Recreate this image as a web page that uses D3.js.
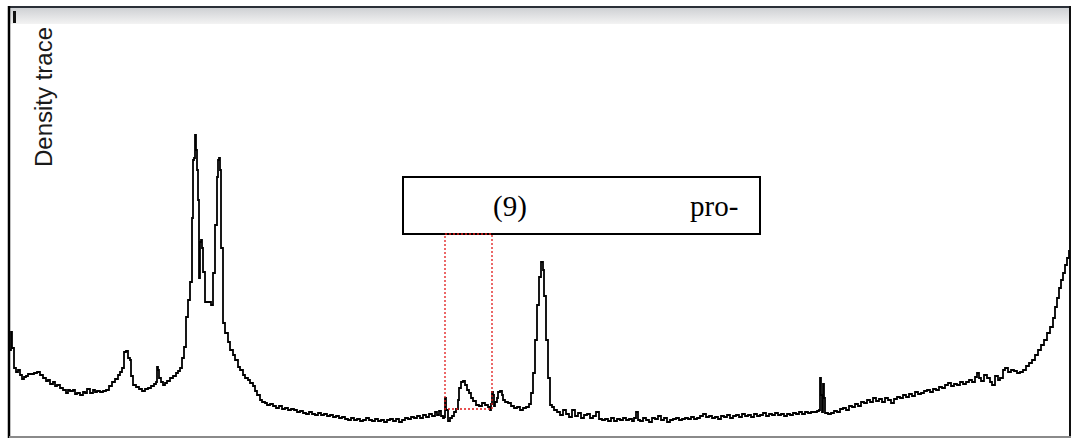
<!DOCTYPE html>
<html>
<head>
<meta charset="utf-8">
<script src="https://cdn.jsdelivr.net/npm/d3@7"></script>
<style>
  html, body { margin: 0; padding: 0; background: #fff; }
  svg { display: block; }
</style>
</head>
<body>
<svg id="chart" width="1074" height="439"></svg>
<script>
// Lane scan: migration distance along the lane and optical density at each step
const distance = [
  0,1,2,4,6,8,10,12,14,16,18,21,24,27,30,33,36,38,40,43,45,47,50,53,56,58,60,63,65,67,70,73,75,77,80,83,85,87,90,93,
  96,99,102,105,108,110,112,114,116,118,120,121,123,126,129,132,135,138,141,144,146,147,148,149,151,153,155,157,160,163,
  166,168,170,172,174,176,178,180,182,183,184,185,186,187,188,189,190,191,192,193,195,198,201,203,205,207,208,209,210,211,
  213,215,218,220,223,225,228,230,233,235,238,240,243,245,247,250,252,255,257,260,263,266,269,272,275,278,281,284,287,290,
  293,296,299,302,305,308,311,314,317,320,323,326,329,332,335,338,341,344,347,350,353,356,359,362,365,368,371,374,377,380,
  383,386,389,392,395,398,401,404,407,410,413,416,419,422,425,427,429,431,433,434,435,436,438,440,442,444,446,448,449,451,
  453,455,457,459,461,463,466,469,472,475,478,480,481,482,483,484,485,487,488,490,492,493,495,498,501,504,507,510,513,516,
  519,521,523,525,527,529,531,533,534,536,538,540,542,544,547,550,553,556,559,562,565,568,571,574,577,580,583,586,589,592,
  595,598,601,604,607,610,613,616,619,622,624,626,628,630,633,636,639,642,645,648,651,654,657,660,663,666,669,672,675,678,
  681,684,687,690,693,696,699,702,705,708,711,714,717,720,723,726,729,732,735,738,741,744,747,750,753,756,759,762,765,768,
  771,774,777,780,783,786,789,792,795,798,801,804,807,809,810,811,812,813,814,815,818,821,824,827,830,833,836,839,842,845,
  848,851,854,857,860,863,866,869,872,875,878,881,884,887,890,893,896,899,902,905,908,911,914,917,920,923,926,929,932,935,
  938,941,944,947,950,953,956,959,962,965,967,969,971,974,977,980,982,985,988,990,993,995,998,1001,1004,1007,1010,1013,1016,1019,
  1022,1025,1028,1031,1034,1037,1040,1043,1045,1047,1049,1051,1053,1055,1057,1059
];
const density = [
  87,105,89,69,65,67,62,58,60,61,63,63,64,65,62,59,56,57,53,55,51,52,49,47,44,47,46,47,43,44,42,45,44,48,44,47,45,46,45,46,
  47,51,55,58,62,65,69,85,86,79,77,61,52,50,48,46,48,49,51,53,55,70,67,59,55,52,54,56,59,61,
  64,66,69,79,90,120,137,155,219,277,279,302,287,267,237,159,195,197,189,165,135,135,132,164,212,260,277,279,267,189,
  114,104,95,87,82,77,70,67,62,59,57,54,51,46,42,37,35,34,32,33,31,29,31,28,29,27,28,27,25,26,
  24,23,25,23,22,24,22,23,21,22,20,21,19,20,18,17,19,17,18,16,17,19,17,16,18,16,17,15,17,18,
  16,18,15,17,19,18,20,19,21,19,22,20,23,21,25,22,26,21,19,20,39,27,16,19,21,25,28,37,49,55,
  56,52,47,44,39,36,32,31,34,32,30,27,33,45,42,31,35,39,45,46,42,37,35,34,31,29,30,27,29,30,
  33,44,64,97,132,160,175,167,141,97,59,32,30,27,25,22,27,23,20,27,21,24,19,22,23,19,21,25,18,17,
  18,16,19,16,18,17,19,17,18,16,19,25,17,16,19,17,15,19,18,21,17,19,15,17,18,19,17,18,19,18,
  20,18,19,21,23,20,21,19,20,18,21,20,22,19,21,22,20,23,21,22,20,23,21,22,24,21,23,22,24,22,
  23,21,23,22,24,23,25,23,25,24,25,25,26,27,59,42,25,53,39,24,23,24,26,25,28,29,27,31,30,33,
  31,35,34,37,35,39,36,38,35,39,37,34,38,40,39,42,40,43,41,45,43,44,46,47,45,48,47,50,49,52,
  54,51,53,52,55,53,55,57,55,60,64,59,56,62,59,55,52,61,57,59,67,69,65,67,66,64,65,67,71,74,
  77,82,87,92,97,104,110,119,130,139,149,157,164,172,179,187
];

// Box label segments
const labelTexts = ["(9)", "pro-"];
const axisTitle = "Density trace";

// Highlighted band on the lane (distance range) and its lower density bound
const bandRange = [435, 482];
const bandFloor = 28;

const svg = d3.select("#chart");

const x = d3.scaleLinear().domain([0, 1060]).range([10, 1070]);
const y = d3.scaleLinear().domain([0, 430]).range([437, 7]);

const serif = "'Liberation Serif', 'Times New Roman', serif";
const sans = "'Liberation Sans', Arial, sans-serif";

// Window title strip
const defs = svg.append("defs");
const grad = defs.append("linearGradient").attr("id", "strip").attr("x1", 0).attr("y1", 0).attr("x2", 0).attr("y2", 1);
grad.append("stop").attr("offset", "0%").attr("stop-color", "#cfd1d4");
grad.append("stop").attr("offset", "100%").attr("stop-color", "#f3f3f3");

svg.append("rect").attr("x", 9).attr("y", 8).attr("width", 1061).attr("height", 16).attr("fill", "url(#strip)");
svg.append("line").attr("x1", 8).attr("x2", 1071).attr("y1", 7).attr("y2", 7)
  .attr("stroke", "#2b3038").attr("stroke-width", 2);
svg.append("rect").attr("x", 13).attr("y", 11).attr("width", 3).attr("height", 12).attr("fill", "#111");

// Frame
svg.append("line").attr("x1", 9).attr("x2", 9).attr("y1", 6).attr("y2", 438)
  .attr("stroke", "#000").attr("stroke-width", 2.5);
svg.append("line").attr("x1", 1070).attr("x2", 1070).attr("y1", 6).attr("y2", 438)
  .attr("stroke", "#111").attr("stroke-width", 2);
svg.append("line").attr("x1", 9).attr("x2", 1071).attr("y1", 437).attr("y2", 437)
  .attr("stroke", "#8a8a8a").attr("stroke-width", 2);

// Vertical title
svg.append("text")
  .attr("transform", "translate(52,167) rotate(-90)")
  .attr("font-family", sans)
  .attr("font-size", 23)
  .attr("fill", "#1a1a1a")
  .attr("textLength", 140)
  .attr("lengthAdjust", "spacingAndGlyphs")
  .text(axisTitle);

// Density trace
const pts = distance.map((d, i) => [d, density[i]]);
const line = d3.line().x(d => x(d[0])).y(d => y(d[1])).curve(d3.curveStepAfter);
svg.append("path")
  .attr("d", line(pts))
  .attr("fill", "none")
  .attr("stroke", "#000")
  .attr("stroke-width", 1.8)
  .attr("stroke-linejoin", "miter");

// Annotation box
svg.append("rect").attr("x", 403).attr("y", 177).attr("width", 357).attr("height", 57)
  .attr("fill", "#fff").attr("stroke", "#000").attr("stroke-width", 2);
svg.append("text").attr("x", 493).attr("y", 216)
  .attr("font-family", serif).attr("font-size", 29)
  .attr("fill", "#000").text(labelTexts[0]);
svg.append("text").attr("x", 690).attr("y", 216)
  .attr("font-family", serif).attr("font-size", 29)
  .attr("fill", "#000").text(labelTexts[1]);

// Dotted band marker
svg.append("rect")
  .attr("x", x(bandRange[0])).attr("y", 234)
  .attr("width", x(bandRange[1]) - x(bandRange[0]))
  .attr("height", y(bandFloor) - 234)
  .attr("fill", "none").attr("stroke", "#e01818").attr("stroke-width", 1.3)
  .attr("stroke-dasharray", "2,2");
</script>
</body>
</html>
